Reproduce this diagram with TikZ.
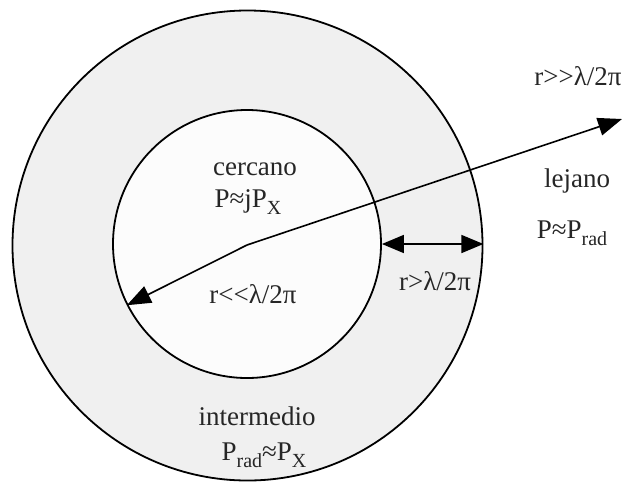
\documentclass[tikz,border=0pt]{standalone}
\usepackage{fontspec}
\setmainfont{Liberation Serif}[Ligatures=TeXOff]
\usetikzlibrary{arrows.meta}
\newcommand\subtx[1]{\raisebox{-7pt}{\fontsize{20pt}{20pt}\selectfont #1}}
\begin{document}
\begin{tikzpicture}[x=1pt,y=-1pt,
  ring/.style={draw=black, line width=1.8pt, fill=gray!12},
  core/.style={draw=black, line width=1.8pt, fill=gray!2},
  lbl/.style={font=\fontsize{27pt}{27pt}\selectfont, inner sep=0pt, anchor=base, text=black!85},
  arr/.style={line width=1.6pt, -{Triangle[length=24pt,width=18pt]}},
  dbl/.style={line width=1.6pt, {Triangle[length=22pt,width=18pt]}-{Triangle[length=22pt,width=18pt]}}]
\useasboundingbox (0,0) rectangle (626,483);
\node[circle, ring, minimum size=470pt, inner sep=0pt] (outer) at (247.5,245.5) {};
\node[circle, core, minimum size=268pt, inner sep=0pt] (inner) at (247,244) {};
\coordinate (K) at (247,245);
\coordinate (T) at (622,119);
\draw[arr] (K) -- (T);
\draw[arr] (K) -- (inner.207.5);
\draw[dbl] (inner.east) -- (inner.east -| outer.east);
\node[lbl] (cer) at (255,175) {cercano};
\node[lbl] (pj) at (248,207) {P≈jP\subtx{X}};
\node[lbl] (rll) at (253,303) {r<{}<λ/2π};
\node[lbl] (rg) at (435,290) {r>λ/2π};
\node[lbl] (rgg) at (578,85) {r>{}>λ/2π};
\node[lbl] (lej) at (577,187) {lejano};
\node[lbl] (pp) at (572,238) {P≈P\subtx{rad}};
\node[lbl] (int) at (257,425) {intermedio};
\node[lbl] (prp) at (264,460) {P\subtx{rad}≈P\subtx{X}};
\end{tikzpicture}
\end{document}
